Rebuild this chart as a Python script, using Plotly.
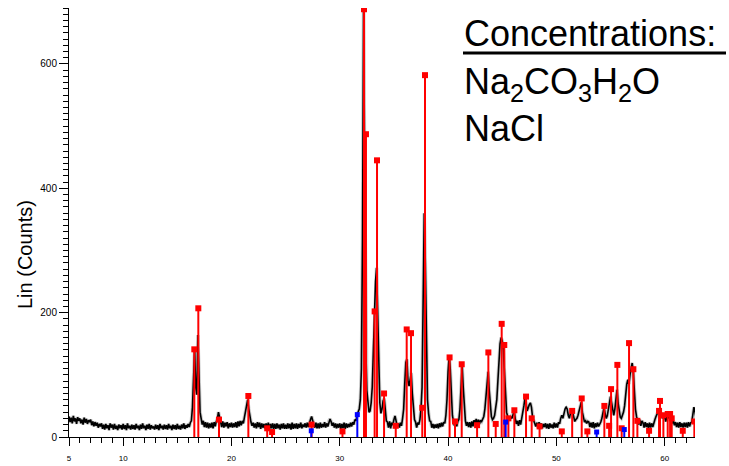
import plotly.graph_objects as go

# ---- scan grid (instrument start / step, degrees 2-theta) ----
scan_start = 5.0
scan_step = 0.1

# ---- measured intensity (Lin counts), one row per degree ----
counts = (
    [33, 24, 31, 22, 34, 25, 30, 21, 32, 26] +      # 5
    [30, 22, 28, 20, 31, 23, 29, 21, 27, 24] +      # 6
    [28, 19, 25, 17, 24, 18, 23, 15, 21, 17] +      # 7
    [22, 13, 20, 12, 21, 14, 19, 11, 22, 15] +      # 8
    [20, 12, 21, 13, 18, 11, 20, 14, 19, 12] +      # 9
    [21, 13, 19, 11, 22, 14, 18, 12, 20, 13] +      # 10
    [19, 12, 21, 14, 18, 11, 20, 13, 22, 14] +      # 11
    [18, 11, 20, 13, 21, 12, 19, 14, 17, 12] +      # 12
    [20, 13, 19, 11, 21, 14, 18, 12, 20, 13] +      # 13
    [19, 12, 21, 14, 18, 11, 20, 13, 19, 12] +      # 14
    [21, 13, 18, 12, 20, 14, 22, 13, 19, 15] +      # 15
    [21, 16, 23, 26, 48, 100, 140, 80, 68, 164] +   # 16
    [85, 40, 30, 20, 26, 16, 24, 15, 23, 14] +      # 17
    [22, 15, 23, 14, 24, 17, 25, 29, 40, 30] +      # 18
    [24, 16, 25, 15, 23, 17, 24, 14, 22, 16] +      # 19
    [23, 15, 22, 16, 24, 15, 25, 17, 26, 19] +      # 20
    [26, 22, 32, 42, 55, 60, 45, 30, 24, 18] +      # 21
    [23, 15, 22, 14, 24, 16, 23, 13, 22, 15] +      # 22
    [21, 14, 22, 13, 23, 12, 21, 14, 22, 13] +      # 23
    [21, 13, 22, 14, 20, 12, 21, 14, 22, 13] +      # 24
    [20, 13, 22, 14, 21, 12, 23, 13, 21, 14] +      # 25
    [22, 13, 21, 15, 23, 14, 20, 16, 22, 15] +      # 26
    [23, 16, 25, 28, 33, 25, 20, 15, 23, 14] +      # 27
    [22, 14, 23, 15, 21, 16, 24, 15, 22, 17] +      # 28
    [26, 29, 25, 18, 23, 15, 22, 14, 21, 15] +      # 29
    [22, 13, 21, 14, 23, 13, 22, 15, 21, 16] +      # 30
    [23, 17, 24, 20, 28, 26, 36, 42, 45, 60] +      # 31
    [110, 320, 690, 420, 150, 75, 50, 40, 42, 55] + # 32
    [80, 140, 190, 250, 272, 200, 110, 55, 38, 45] +# 33
    [58, 62, 45, 26, 24, 15, 25, 14, 23, 19] +      # 34
    [28, 34, 26, 17, 22, 15, 23, 18, 30, 45] +      # 35
    [85, 120, 125, 90, 82, 95, 103, 70, 45, 28] +   # 36
    [24, 15, 23, 20, 28, 45, 80, 200, 360, 280] +   # 37
    [130, 60, 38, 26, 25, 15, 21, 14, 20, 15] +     # 38
    [21, 14, 22, 16, 23, 17, 24, 22, 35, 60] +      # 39
    [105, 130, 110, 60, 35, 24, 18, 26, 17, 25] +   # 40
    [28, 45, 85, 115, 80, 42, 26, 18, 24, 16] +     # 41
    [24, 15, 25, 17, 27, 22, 29, 19, 28, 21] +      # 42
    [27, 25, 30, 33, 45, 70, 95, 105, 75, 45] +     # 43
    [33, 28, 30, 35, 45, 60, 90, 130, 150, 160] +   # 44
    [155, 140, 100, 60, 40, 33, 30, 28, 32, 30] +   # 45
    [36, 42, 30, 21, 26, 18, 27, 20, 30, 38] +      # 46
    [50, 62, 55, 42, 48, 52, 55, 48, 32, 26] +      # 47
    [24, 17, 23, 15, 24, 16, 22, 14, 21, 16] +      # 48
    [22, 14, 21, 13, 22, 15, 20, 14, 23, 15] +      # 49
    [22, 15, 24, 21, 30, 35, 30, 38, 45, 48] +      # 50
    [45, 35, 30, 38, 44, 40, 30, 25, 28, 30] +      # 51
    [35, 42, 52, 56, 40, 28, 24, 26, 22, 25] +      # 52
    [24, 16, 23, 15, 24, 14, 22, 16, 23, 17] +      # 53
    [20, 24, 30, 40, 47, 38, 30, 34, 45, 58] +      # 54
    [65, 55, 40, 35, 45, 62, 76, 55, 38, 32] +      # 55
    [30, 35, 40, 50, 70, 85, 92, 85, 100, 110] +    # 56
    [119, 105, 70, 45, 33, 26, 20, 28, 18, 26] +    # 57
    [23, 15, 24, 16, 22, 14, 23, 15, 22, 16] +      # 58
    [24, 28, 33, 38, 42, 45, 40, 33, 30, 35] +      # 59
    [32, 25, 33, 30, 34, 28, 31, 22, 26, 19] +      # 60
    [24, 16, 23, 15, 24, 16, 22, 15, 23, 16] +      # 61
    [23, 15, 24, 17, 23, 24, 35, 48, 40, 28] +      # 62
    [22]                                            # 63
)
two_theta = [round(scan_start + i * scan_step, 2) for i in range(len(counts))]

# ---- reference pattern sticks (red) ----
red_pos = [16.57, 16.94, 18.85, 21.56, 23.30, 23.75, 27.40, 30.25, 32.24, 32.42,
           33.22, 33.44, 34.09, 35.17, 36.18, 36.58, 37.62, 37.87, 40.14, 40.64,
           41.26, 42.68, 43.72, 44.40, 44.95, 45.19, 45.57, 46.12, 47.20, 47.72,
           48.45, 50.50, 51.46, 52.34, 52.86, 54.43, 54.87, 55.05, 55.63, 56.03,
           56.71, 57.11, 57.48, 58.56, 59.48, 59.57, 59.88, 60.28, 60.50, 60.65,
           61.67, 62.74]
red_int = [141, 207, 28, 66, 14, 8, 20, 9, 688, 487,
           202, 445, 70, 18, 173, 167, 47, 582, 128, 25,
           117, 19, 136, 21, 182, 148, 30, 43, 65, 30,
           17, 9, 42, 62, 9, 50, 18, 77, 116, 14,
           151, 109, 26, 10, 42, 58, 35, 37, 37, 30,
           10, 25]

# ---- second phase sticks (blue) ----
blue_pos = [27.37, 31.62, 45.32, 53.72, 56.27]
blue_int = [10, 36, 24, 8, 12]

x_ticks = [5, 10, 20, 30, 40, 50, 60]
y_ticks = [0, 200, 400, 600]

# intended plot-area pixel box (for placing paper-referenced texts)
PL, PR, PT, PB = 69, 695, 8, 437


def px(xp):
    return (xp - PL) / (PR - PL)


def py(yp):
    return (PB - yp) / (PB - PT)


def sticks(pos, inten):
    xs, ys = [], []
    for p, h in zip(pos, inten):
        xs += [p, p, None]
        ys += [0, h, None]
    return xs, ys


fig = go.Figure()
fig.add_trace(go.Scatter(x=two_theta, y=counts, mode="lines",
                         line=dict(color="rgba(150,150,150,0.5)", width=3.5),
                         hoverinfo="skip"))
fig.add_trace(go.Scatter(x=two_theta, y=counts, mode="lines",
                         line=dict(color="black", width=1.6)))

rx, ry = sticks(red_pos, red_int)
fig.add_trace(go.Scatter(x=rx, y=ry, mode="lines",
                         line=dict(color="#ff0000", width=2)))
fig.add_trace(go.Scatter(x=red_pos, y=red_int, mode="markers",
                         marker=dict(color="#ff0000", symbol="square", size=6)))
bx, by = sticks(blue_pos, blue_int)
fig.add_trace(go.Scatter(x=bx, y=by, mode="lines",
                         line=dict(color="#0000ff", width=2)))
fig.add_trace(go.Scatter(x=blue_pos, y=blue_int, mode="markers",
                         marker=dict(color="#0000ff", symbol="square", size=5)))

font_fam = "Arial, Liberation Sans, sans-serif"
fig.update_layout(
    width=729, height=466,
    margin=dict(l=PL, r=729 - PR, t=PT, b=466 - PB),
    plot_bgcolor="white", paper_bgcolor="white",
    showlegend=False,
    font=dict(family=font_fam, color="black"),
    xaxis=dict(range=[5, 62.8], tickvals=x_ticks, ticks="outside", ticklen=8,
               tickwidth=1, tickcolor="black", showline=True, linecolor="black",
               linewidth=1, showgrid=False, zeroline=False, automargin=False,
               tickfont=dict(size=8), ticklabelstandoff=5,
               minor=dict(dtick=1, tick0=5, ticks="outside", ticklen=5,
                          tickcolor="black", showgrid=False)),
    yaxis=dict(range=[0, 690], tickvals=y_ticks, ticks="outside", ticklen=9,
               tickwidth=1, tickcolor="black", showline=True, linecolor="black",
               linewidth=1, showgrid=False, zeroline=False, automargin=False,
               tickfont=dict(size=10),
               minor=dict(dtick=10, tick0=0, ticks="outside", ticklen=5,
                          tickcolor="black", showgrid=False)),
)

fig.add_annotation(text="Lin (Counts)", xref="paper", yref="paper",
                   x=px(25), y=py(255), textangle=-90,
                   showarrow=False, font=dict(size=20),
                   xanchor="center", yanchor="middle")

fig.add_annotation(text="Concentrations:", xref="paper", yref="paper",
                   x=px(462), y=py(34), showarrow=False,
                   font=dict(size=36), xanchor="left", yanchor="middle")
fig.add_annotation(text="Na<sub>2</sub>CO<sub>3</sub>H<sub>2</sub>O<br>NaCl",
                   xref="paper", yref="paper", align="left",
                   x=px(462), y=py(105), showarrow=False,
                   font=dict(size=36), xanchor="left", yanchor="middle")
fig.add_shape(type="line", xref="paper", yref="paper",
              x0=px(463), x1=px(726), y0=py(53), y1=py(53),
              line=dict(color="black", width=3))

fig.write_html("out.html")
